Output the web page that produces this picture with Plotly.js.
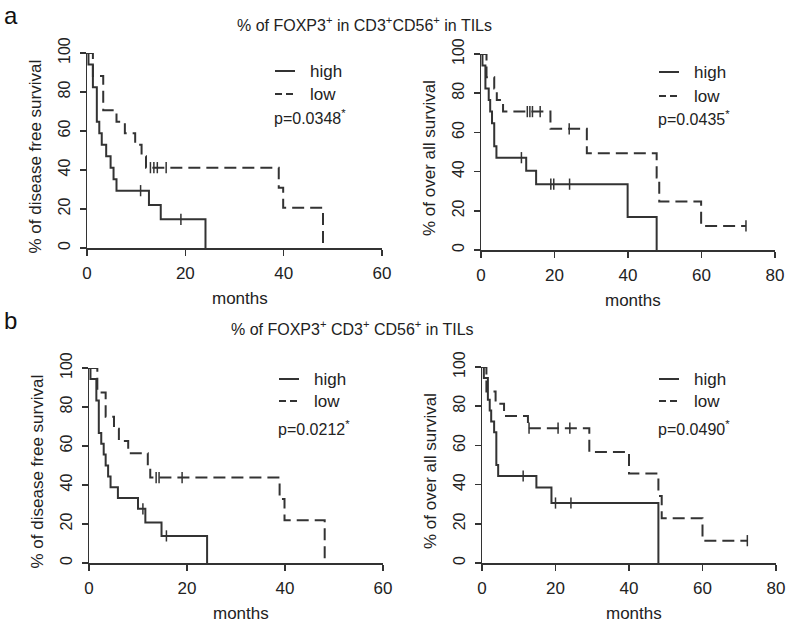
<!DOCTYPE html>
<html>
<head>
<meta charset="utf-8">
<script src="https://cdn.plot.ly/plotly-3.0.1.min.js"></script>
<style>html,body{margin:0;padding:0;background:#fff;}#chart{width:787px;height:627px;}</style>
</head>
<body>
<div id="chart"></div>
<script>
// ---------- data ----------
const groupNames = ['high', 'low'];
const pValues = ['0.0348', '0.0435', '0.0212', '0.0490'];
const xTicksDfs = [0, 20, 40, 60];
const xTicksOs = [0, 20, 40, 60, 80];
const yTicks = [0, 20, 40, 60, 80, 100];

// Panel a, disease free survival
const aDfsHighT = [0, 0.3, 1.2, 2.0, 2.5, 3.0, 3.9, 4.8, 5.4, 6.0, 12.6, 15.0, 24.1];
const aDfsHighS = [100, 94.1, 82.4, 64.7, 58.8, 52.9, 47.1, 41.2, 35.3, 29.4, 22.1, 14.7, 0];
const aDfsHighCT = [10.9, 19.1];
const aDfsHighCS = [29.4, 14.7];
const aDfsLowT = [0, 1.2, 3.3, 6.0, 7.7, 9.8, 11.1, 12.0, 39.0, 39.9, 48.0];
const aDfsLowS = [100, 88.2, 70.6, 64.7, 58.8, 52.9, 47.1, 41.2, 30.9, 20.6, 0];
const aDfsLowCT = [12.9, 13.6, 14.3, 16.1];
const aDfsLowCS = [41.2, 41.2, 41.2, 41.2];

// Panel a, overall survival
const aOsHighT = [0, 0.4, 1.2, 2.1, 2.5, 3.0, 3.6, 4.2, 12.3, 15.0, 39.9, 47.8];
const aOsHighS = [100, 94.1, 82.4, 76.5, 70.6, 64.7, 52.9, 47.1, 40.4, 33.6, 16.8, 0];
const aOsHighCT = [11.0, 19.0, 19.8, 24.1];
const aOsHighCS = [47.1, 33.6, 33.6, 33.6];
const aOsLowT = [0, 1.5, 3.6, 4.3, 6.0, 18.9, 28.8, 47.8, 48.5, 59.9, 72.1];
const aOsLowS = [100, 88.2, 82.4, 76.5, 70.6, 61.8, 49.4, 37.0, 24.7, 12.3, 12.3];
const aOsLowCT = [12.6, 13.3, 14.0, 16.1, 24.0, 72.1];
const aOsLowCS = [70.6, 70.6, 70.6, 70.6, 61.8, 12.3];

// Panel b, disease free survival
const bDfsHighT = [0, 0.3, 1.5, 2.0, 2.5, 3.0, 3.4, 3.9, 4.4, 5.9, 10.0, 11.5, 14.8, 24.1];
const bDfsHighS = [100, 94.4, 83.3, 66.7, 61.1, 55.6, 50.0, 44.4, 38.9, 33.3, 27.8, 20.8, 13.9, 0];
const bDfsHighCT = [11.0, 15.8];
const bDfsHighCS = [27.8, 13.9];
const bDfsLowT = [0, 1.7, 3.4, 5.1, 6.1, 8.0, 12.0, 12.5, 38.9, 39.9, 48.1];
const bDfsLowS = [100, 87.5, 75.0, 68.8, 62.5, 56.3, 50.0, 43.8, 32.8, 21.9, 0];
const bDfsLowCT = [13.7, 14.3, 19.0];
const bDfsLowCS = [43.8, 43.8, 43.8];

// Panel b, overall survival
const bOsHighT = [0, 0.5, 1.6, 2.1, 2.5, 3.3, 3.9, 4.4, 14.8, 18.9, 48.0];
const bOsHighS = [100, 94.4, 83.3, 77.8, 72.2, 66.7, 50.0, 44.4, 38.5, 30.6, 0];
const bOsHighCT = [11.2, 20.0, 24.2];
const bOsHighCS = [44.4, 30.6, 30.6];
const bOsLowT = [0, 1.2, 3.7, 6.0, 12.5, 29.2, 40.0, 48.0, 48.9, 60.0, 72.2];
const bOsLowS = [100, 87.5, 81.3, 75.0, 68.8, 56.6, 45.6, 34.2, 22.8, 11.4, 11.4];
const bOsLowCT = [12.8, 20.7, 23.9, 72.2];
const bOsLowCS = [68.8, 68.8, 68.8, 11.4];

// ---------- styling / layout ----------
const W = 787, H = 627;
const PX = x => x / W;
const PY = y => 1 - y / H;
const INK = '#333333';
const TXT = '#222222';
const FONT = 'Liberation Sans, Arial, Helvetica, sans-serif';
const DASH = '12px,6px';

const panels = [
  {x: 'x',  y: 'y',  hT: aDfsHighT, hS: aDfsHighS, hCT: aDfsHighCT, hCS: aDfsHighCS, lT: aDfsLowT, lS: aDfsLowS, lCT: aDfsLowCT, lCS: aDfsLowCS,
   px: [87, 382], py: [53, 248], ticks: xTicksDfs, max: 60, ytitle: '% of disease free survival', leg: [275, 71, 94, 117], p: pValues[0]},
  {x: 'x2', y: 'y2', hT: aOsHighT, hS: aOsHighS, hCT: aOsHighCT, hCS: aOsHighCS, lT: aOsLowT, lS: aOsLowS, lCT: aOsLowCT, lCS: aOsLowCS,
   px: [481, 775], py: [54, 250], ticks: xTicksOs, max: 80, ytitle: '% of over all survival', leg: [659, 72, 96, 118], p: pValues[1]},
  {x: 'x3', y: 'y3', hT: bDfsHighT, hS: bDfsHighS, hCT: bDfsHighCT, hCS: bDfsHighCS, lT: bDfsLowT, lS: bDfsLowS, lCT: bDfsLowCT, lCS: bDfsLowCS,
   px: [89, 383], py: [368, 563], ticks: xTicksDfs, max: 60, ytitle: '% of disease free survival', leg: [279, 379, 401, 428], p: pValues[2]},
  {x: 'x4', y: 'y4', hT: bOsHighT, hS: bOsHighS, hCT: bOsHighCT, hCS: bOsHighCS, lT: bOsLowT, lS: bOsLowS, lCT: bOsLowCT, lCS: bOsLowCS,
   px: [482, 776], py: [367, 563], ticks: xTicksOs, max: 80, ytitle: '% of over all survival', leg: [659, 379, 401, 428], p: pValues[3]}
];

const traces = [];
const layout = {
  width: W, height: H,
  margin: {l: 0, r: 0, t: 0, b: 0},
  paper_bgcolor: '#ffffff', plot_bgcolor: '#ffffff',
  showlegend: false,
  font: {family: FONT, color: TXT, size: 15},
  annotations: [], shapes: []
};

panels.forEach((p, i) => {
  const line = (t, s, dash, name) => ({
    type: 'scatter', mode: 'lines', x: t, y: s, xaxis: p.x, yaxis: p.y, name: name,
    line: {shape: 'hv', color: INK, width: 2, dash: dash}, hoverinfo: 'skip'
  });
  const cens = (t, s, name) => ({
    type: 'scatter', mode: 'markers', x: t, y: s, xaxis: p.x, yaxis: p.y, name: name + ' (censored)',
    marker: {symbol: 'line-ns-open', size: 8, color: INK, line: {color: INK, width: 1.5}}, hoverinfo: 'skip', cliponaxis: false
  });
  traces.push(line(p.hT, p.hS, 'solid', groupNames[0]));
  traces.push(cens(p.hCT, p.hCS, groupNames[0]));
  traces.push(line(p.lT, p.lS, DASH, groupNames[1]));
  traces.push(cens(p.lCT, p.lCS, groupNames[1]));

  const sfx = i === 0 ? '' : String(i + 1);
  layout['xaxis' + sfx] = {
    domain: [PX(p.px[0]), PX(p.px[1])], anchor: p.y, range: [0, p.max],
    tickvals: p.ticks, ticktext: p.ticks.map(String),
    showline: true, linecolor: INK, linewidth: 1.5, ticks: 'outside', ticklen: 6, tickwidth: 1.5, tickcolor: INK,
    showgrid: false, zeroline: false, tickfont: {size: 17, color: TXT, family: FONT}, ticklabelstandoff: 3, fixedrange: true
  };
  layout['yaxis' + sfx] = {
    domain: [PY(p.py[1]), PY(p.py[0])], anchor: p.x, range: [0, 100],
    tickvals: yTicks, ticktext: yTicks.map(String), tickangle: -90,
    showline: true, linecolor: INK, linewidth: 1.5, ticks: 'outside', ticklen: 6, tickwidth: 1.5, tickcolor: INK,
    showgrid: false, zeroline: false, tickfont: {size: 16, color: TXT, family: FONT}, ticklabelstandoff: 3, fixedrange: true
  };

  // axis titles
  const cx = (p.px[0] + p.px[1]) / 2;
  const cy = (p.py[0] + p.py[1]) / 2;
  layout.annotations.push({
    xref: 'paper', yref: 'paper', x: PX(cx + 5), y: PY(p.py[1] + 50), text: 'months',
    showarrow: false, xanchor: 'center', yanchor: 'middle', font: {size: 17, color: TXT}
  });
  layout.annotations.push({
    xref: 'paper', yref: 'paper', x: PX(p.px[0] - 52), y: PY(cy + 6), text: p.ytitle, textangle: -90,
    showarrow: false, xanchor: 'center', yanchor: 'middle', font: {size: 17, color: TXT}
  });

  // legend (drawn by hand, R style)
  const [lx, yh, yl, yp] = p.leg;
  layout.shapes.push({type: 'line', xref: 'paper', yref: 'paper', x0: PX(lx), x1: PX(lx + 20), y0: PY(yh), y1: PY(yh),
    line: {color: INK, width: 2}});
  layout.shapes.push({type: 'line', xref: 'paper', yref: 'paper', x0: PX(lx), x1: PX(lx + 20), y0: PY(yl), y1: PY(yl),
    line: {color: INK, width: 2, dash: '7px,4px'}});
  layout.annotations.push({xref: 'paper', yref: 'paper', x: PX(lx + 33), y: PY(yh), text: groupNames[0],
    showarrow: false, xanchor: 'left', yanchor: 'middle', font: {size: 17, color: TXT}});
  layout.annotations.push({xref: 'paper', yref: 'paper', x: PX(lx + 33), y: PY(yl), text: groupNames[1],
    showarrow: false, xanchor: 'left', yanchor: 'middle', font: {size: 17, color: TXT}});
  layout.annotations.push({xref: 'paper', yref: 'paper', x: PX(lx - 3), y: PY(yp), text: 'p=' + p.p + '<sup>*</sup>',
    showarrow: false, xanchor: 'left', yanchor: 'middle', font: {size: 16, color: TXT}});
});

// panel letters and titles
layout.annotations.push({xref: 'paper', yref: 'paper', x: PX(2), y: PY(0), text: 'a', showarrow: false,
  xanchor: 'left', yanchor: 'top', font: {size: 24, color: '#111'}});
layout.annotations.push({xref: 'paper', yref: 'paper', x: PX(2), y: PY(305), text: 'b', showarrow: false,
  xanchor: 'left', yanchor: 'top', font: {size: 24, color: '#111'}});
layout.annotations.push({xref: 'paper', yref: 'paper', x: PX(364), y: PY(24),
  text: '% of FOXP3<sup>+</sup> in CD3<sup>+</sup>CD56<sup>+</sup> in TILs', showarrow: false,
  xanchor: 'center', yanchor: 'middle', font: {size: 16, color: TXT}});
layout.annotations.push({xref: 'paper', yref: 'paper', x: PX(352), y: PY(328),
  text: '% of FOXP3<sup>+</sup> CD3<sup>+</sup> CD56<sup>+</sup> in TILs', showarrow: false,
  xanchor: 'center', yanchor: 'middle', font: {size: 16, color: TXT}});

Plotly.newPlot('chart', traces, layout, {staticPlot: true, displayModeBar: false});
</script>
</body>
</html>
